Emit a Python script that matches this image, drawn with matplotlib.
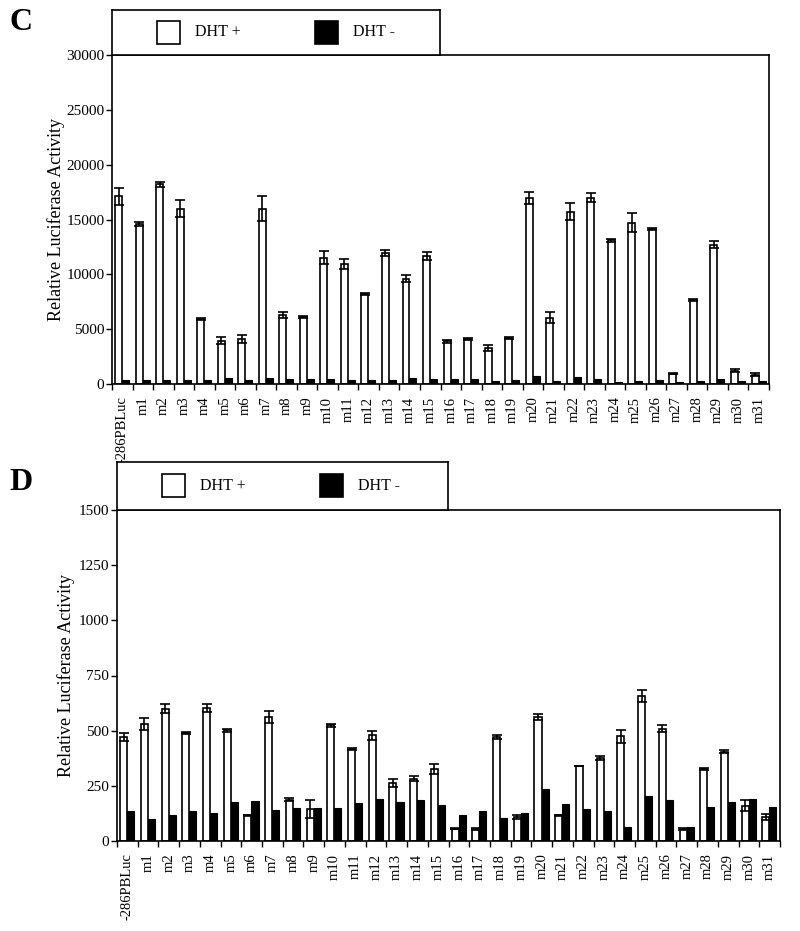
import numpy as np
import matplotlib
matplotlib.use("Agg")
import matplotlib.pyplot as plt
from matplotlib.patches import Rectangle

plt.rcParams['font.family'] = ['Liberation Serif', 'DejaVu Serif']

labels = ['-286PBLuc'] + ['m%d' % i for i in range(1, 32)]

# panel C (high DHT response)
c_plus = [17100, 14600, 18200, 16000, 5950, 3950, 4100, 16000, 6300, 6100,
          11500, 10950, 8200, 11950, 9600, 11650, 3900, 4100, 3300, 4200,
          17000, 6050, 15700, 17000, 13100, 14700, 14150, 950, 7650, 12700,
          1200, 850]
c_plus_err = [800, 150, 250, 800, 100, 300, 330, 1100, 240, 100,
              600, 450, 80, 240, 300, 350, 120, 80, 280, 60,
              550, 520, 760, 420, 150, 880, 100, 40, 120, 300,
              150, 120]
c_minus = [400, 400, 400, 380, 400, 550, 380, 550, 450, 420,
           480, 400, 380, 400, 580, 480, 450, 480, 300, 320,
           700, 300, 650, 500, 220, 300, 400, 150, 280, 450,
           300, 250]

# panel D
d_plus = [471, 529, 599, 489, 602, 501, 116, 562, 188, 145,
          524, 416, 479, 264, 282, 327, 56, 56, 471, 108,
          562, 117, 340, 376, 474, 658, 509, 56, 327, 405,
          160, 107]
d_plus_err = [20, 28, 20, 4, 18, 6, 3, 28, 6, 42,
              6, 4, 20, 18, 11, 24, 2, 5, 9, 8,
              15, 2, 2, 11, 28, 28, 17, 5, 3, 6,
              24, 14]
d_minus = [134, 98, 120, 137, 128, 178, 182, 142, 148, 148,
           149, 170, 190, 179, 187, 164, 119, 137, 105, 125,
           236, 169, 145, 137, 65, 203, 187, 65, 155, 175,
           190, 155]

W, H = 800, 931
fig = plt.figure(figsize=(W / 100, H / 100), dpi=100)


def px_box(x0, y0, x1, y1):
    # pixel box (top-left origin) -> figure fraction rect
    return [x0 / W, 1 - y1 / H, (x1 - x0) / W, (y1 - y0) / H]


def draw_panel(ax, plus, plus_err, minus, ymax, step, ylab_x):
    x = np.arange(len(labels))
    bw = 0.34
    ax.bar(x - 0.18, plus, bw, color='white', edgecolor='black', linewidth=1.2, zorder=2)
    ax.errorbar(x - 0.18, plus, yerr=plus_err, fmt='none', ecolor='black',
                elinewidth=1.2, capsize=3.5, capthick=1.2, zorder=3)
    ax.bar(x + 0.16, minus, bw, color='black', edgecolor='black', linewidth=0.8, zorder=2)
    ax.set_xlim(-0.5, len(labels) - 0.5)
    ax.set_ylim(0, ymax)
    ax.set_yticks(np.arange(0, ymax + 1, step))
    ax.set_xticks(np.arange(-0.5, len(labels), 1.0))
    ax.set_xticklabels([])
    ax.set_xticks(x, minor=True)
    ax.set_xticklabels(labels, minor=True, rotation=90, fontsize=10.5, va='top')
    ax.tick_params(axis='x', which='minor', length=0, pad=9)
    ax.tick_params(axis='x', which='major', length=4.5, width=1.0, direction='out')
    ax.tick_params(axis='y', length=4.5, width=1.0, direction='out', pad=1, labelsize=11)
    for s in ax.spines.values():
        s.set_linewidth(1.2)
    ax.set_ylabel('Relative Luciferase Activity', fontsize=13)
    ax.yaxis.set_label_coords(ylab_x, 0.5)


def draw_legend(lax):
    lax.set_xticks([])
    lax.set_yticks([])
    lax.set_xlim(0, 1)
    lax.set_ylim(0, 1)
    for s in lax.spines.values():
        s.set_linewidth(1.2)
    wpx = lax.get_position().width * W
    hpx = lax.get_position().height * H
    sq = 23
    for x0, fc, txt in [(45, 'white', 'DHT +'), (203, 'black', 'DHT -')]:
        lax.add_patch(Rectangle((x0 / wpx, 0.5 - sq / 2 / hpx), sq / wpx, sq / hpx,
                                facecolor=fc, edgecolor='black', linewidth=1.2))
        lax.text((x0 + sq + 15) / wpx, 0.5, txt, fontsize=11.5, va='center', ha='left')


# panel C
axc = fig.add_axes(px_box(112, 55, 769, 384))
draw_panel(axc, c_plus, c_plus_err, c_minus, 30000, 5000, -0.072)
legc = fig.add_axes(px_box(112, 10, 440, 55))
draw_legend(legc)
fig.text(21 / W, 1 - 23 / H, 'C', fontsize=23, fontweight='bold', ha='center', va='center')

# panel D
axd = fig.add_axes(px_box(117, 510, 780, 841))
draw_panel(axd, d_plus, d_plus_err, d_minus, 1500, 250, -0.064)
legd = fig.add_axes(px_box(117, 462, 448, 510))
draw_legend(legd)
fig.text(21 / W, 1 - 483 / H, 'D', fontsize=23, fontweight='bold', ha='center', va='center')

fig.savefig('out.png', dpi=100)
